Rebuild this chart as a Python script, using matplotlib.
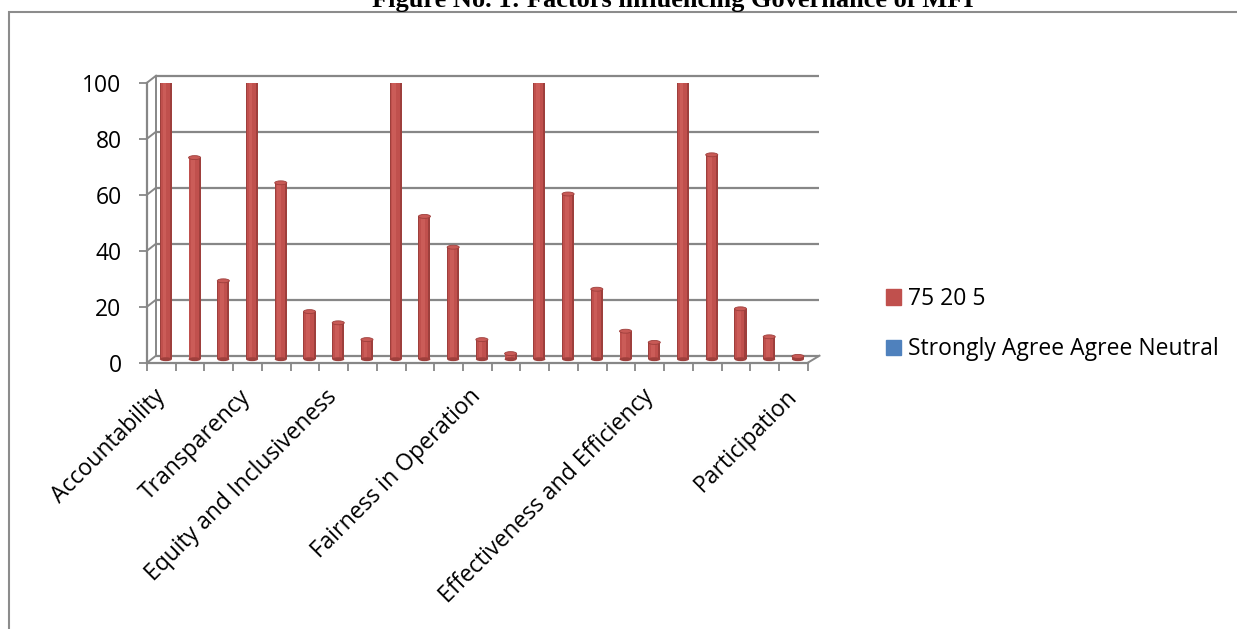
import matplotlib
matplotlib.use('Agg')
import matplotlib.pyplot as plt
import numpy as np
from matplotlib.patches import Ellipse, Rectangle, Patch

plt.rcParams['font.family'] = ['Open Sans', 'DejaVu Sans']

# ---------------- data ----------------
title = "Figure No. 1: Factors influencing Governance of MFI"
categories = ['Accountability', '', '', 'Transparency', '', '',
              'Equity and Inclusiveness', '', '', '', '',
              'Fairness in Operation', '', '', '', '', '',
              'Effectiveness and Efficiency', '', '', '', '', 'Participation']
series1_name = "75 20 5"
series1_values = [100, 72, 28, 100, 63, 17, 13, 7, 100, 51, 40, 7, 2,
                  100, 59, 25, 10, 6, 100, 73, 18, 8, 1]
series2_name = "Strongly Agree Agree Neutral"
yticks = [0, 20, 40, 60, 80, 100]

# ---------------- style ----------------
RED = '#C0504D'
RED_DARK = '#9E3F3C'
RED_LIGHT = '#D0625E'
BLUE = '#4F81BD'
GRID = '#878787'
FS = 16.5

W, H, DPI = 1237, 629, 100
fig = plt.figure(figsize=(W / DPI, H / DPI), dpi=DPI)


def fx(px):
    return px / W


def fy(py):
    return 1 - py / H


# outer chart frame
fig.patches.append(Rectangle((fx(8.5), fy(660)), fx(1300) - fx(8.5), fy(12) - fy(660),
                             transform=fig.transFigure, fill=False,
                             edgecolor='#8c8c8c', lw=1.5))

fig.text(fx(673), fy(7), title, ha='center', va='baseline',
         family='Liberation Serif', fontweight='bold', fontsize=19)

x0, x1, y0, y1 = 147, 807.8, 362.7, 82.7
ax = fig.add_axes([fx(x0), fy(y0), fx(x1) - fx(x0), fy(y1) - fy(y0)])
n = len(series1_values)
ax.set_xlim(-0.5, n - 0.5)
ax.set_ylim(0, 100)
ax.set_facecolor('none')

# 3-D depth offset expressed in data units
px_per_x = (x1 - x0) / n
px_per_y = (y0 - y1) / 100
dxu = 9 / px_per_x
dyu = 7 / px_per_y

# back-wall gridlines + left-wall connectors
for v in yticks:
    ax.plot([-0.5 + dxu, n - 0.5 + dxu * 1.3], [v + dyu, v + dyu], color=GRID, lw=1.6,
            clip_on=False, zorder=1, solid_capstyle='butt')
    ax.plot([-0.5, -0.5 + dxu], [v, v + dyu], color=GRID, lw=1.4, clip_on=False, zorder=1)
ax.plot([-0.5 + dxu, -0.5 + dxu], [dyu, 100 + dyu], color=GRID, lw=1.4, clip_on=False, zorder=1)
ax.plot([n - 0.5, n - 0.5 + dxu * 1.3], [0, dyu], color=GRID, lw=1.4, clip_on=False, zorder=1)

# cylinders
xs = np.arange(n) + dxu / 2
b = dyu / 2
vals = np.array(series1_values)
ax.bar(xs, vals, width=0.42, bottom=b, color=RED_DARK, zorder=2)
ax.bar(xs - 0.02, vals, width=0.32, bottom=b, color=RED, zorder=2)
ax.bar(xs - 0.05, vals, width=0.13, bottom=b, color=RED_LIGHT, zorder=2, alpha=0.7)
for x, v in zip(xs, vals):
    ax.add_patch(Ellipse((x, b), 0.42, 1.4, facecolor=RED_DARK, edgecolor='none', zorder=2))
    ax.add_patch(Ellipse((x, v + b), 0.42, 1.4, facecolor='#C85A56',
                         edgecolor=RED_DARK, lw=0.6, zorder=3))

# axes styling
for s in ['top', 'right']:
    ax.spines[s].set_visible(False)
for s in ['left', 'bottom']:
    ax.spines[s].set_color(GRID)
    ax.spines[s].set_linewidth(1.6)
    ax.spines[s].set_zorder(4)

ax.set_yticks(yticks)
ax.tick_params(axis='y', direction='out', length=5.8, width=1.3, color=GRID,
               pad=12.5, labelsize=FS)
ax.set_xticks(np.arange(n))
ax.set_xticklabels(categories, rotation=45, ha='right', rotation_mode='anchor', va='center')
ax.set_xticks(np.arange(n + 1) - 0.5, minor=True)
ax.tick_params(axis='x', which='major', length=0, pad=22, labelsize=FS)
ax.tick_params(axis='x', which='minor', direction='out', length=5.8, width=1.3, color=GRID)

fig.legend(handles=[Patch(color=RED), Patch(color=BLUE)],
           labels=[series1_name, series2_name],
           loc='upper left', bbox_to_anchor=(fx(886), fy(287)), frameon=False,
           fontsize=FS, handlelength=0.66, handleheight=0.66, handletextpad=0.3,
           labelspacing=1.15, borderpad=0, borderaxespad=0)

fig.savefig('out.png', dpi=DPI)
